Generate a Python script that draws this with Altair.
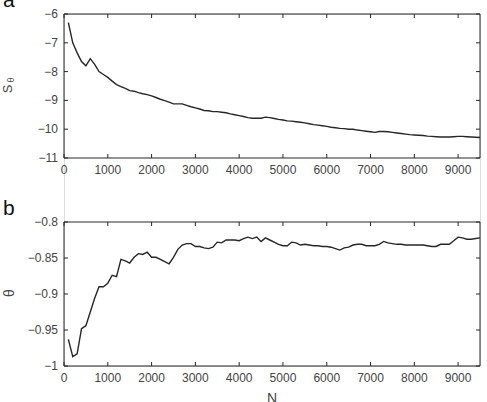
import altair as alt
import pandas as pd

N = list(range(100, 9600, 100))

S_theta = [
    -6.30, -7.00, -7.35, -7.65, -7.80, -7.55, -7.75, -8.00, -8.10, -8.20,
    -8.33, -8.45, -8.52, -8.58, -8.66, -8.68, -8.73, -8.77, -8.80, -8.84,
    -8.90, -8.96, -9.01, -9.06, -9.12, -9.12, -9.12, -9.17, -9.22, -9.26,
    -9.30, -9.35, -9.36, -9.39, -9.39, -9.41, -9.43, -9.47, -9.50, -9.53,
    -9.56, -9.60, -9.62, -9.62, -9.62, -9.58, -9.60, -9.63, -9.66, -9.68,
    -9.71, -9.72, -9.74, -9.76, -9.78, -9.81, -9.84, -9.86, -9.88, -9.90,
    -9.93, -9.95, -9.97, -9.98, -10.00, -10.00, -10.03, -10.05, -10.07, -10.09,
    -10.11, -10.08, -10.08, -10.09, -10.11, -10.13, -10.15, -10.17, -10.19, -10.20,
    -10.21, -10.22, -10.24, -10.25, -10.26, -10.27, -10.27, -10.27, -10.26, -10.25,
    -10.25, -10.26, -10.27, -10.28, -10.29,
]

theta = [
    -0.963, -0.987, -0.983, -0.948, -0.944, -0.925, -0.906, -0.890, -0.890, -0.885,
    -0.874, -0.876, -0.852, -0.854, -0.857, -0.849, -0.844, -0.845, -0.842, -0.849,
    -0.849, -0.852, -0.855, -0.858, -0.849, -0.838, -0.832, -0.830, -0.830, -0.834,
    -0.834, -0.836, -0.837, -0.835, -0.828, -0.829, -0.825, -0.825, -0.825, -0.826,
    -0.823, -0.821, -0.823, -0.821, -0.827, -0.822, -0.825, -0.828, -0.831, -0.833,
    -0.833, -0.828, -0.829, -0.832, -0.831, -0.832, -0.833, -0.833, -0.834, -0.834,
    -0.835, -0.837, -0.839, -0.836, -0.835, -0.832, -0.831, -0.831, -0.833, -0.833,
    -0.833, -0.831, -0.827, -0.829, -0.830, -0.831, -0.831, -0.832, -0.832, -0.832,
    -0.832, -0.832, -0.833, -0.834, -0.834, -0.831, -0.831, -0.831, -0.826, -0.821,
    -0.822, -0.824, -0.824, -0.823, -0.822,
]

x_ticks = [0, 1000, 2000, 3000, 4000, 5000, 6000, 7000, 8000, 9000]
x_labels = ["0", "1000", "2000", "3000", "4000", "5000", "6000", "7000", "8000", "9000"]
y_ticks_a = [-11, -10, -9, -8, -7, -6]
y_labels_a = ["\u221211", "\u221210", "\u22129", "\u22128", "\u22127", "\u22126"]
y_ticks_b = [-1, -0.95, -0.9, -0.85, -0.8]
y_labels_b = ["\u22121", "\u22120.95", "\u22120.9", "\u22120.85", "\u22120.8"]

W = 416
HA = 144            # panel a plot height
TOP_B = 208         # panel b top, relative to panel a top
HB = 144
TOTAL_H = TOP_B + HB

FONT = "Liberation Sans"
LINE = "#262626"
TXT = "#444444"

xs = alt.Scale(domain=[0, 9500], nice=False, zero=False)
ya = alt.Scale(domain=[-11, -6], range=[HA, 0], nice=False, zero=False)
yb = alt.Scale(domain=[-1, -0.8], range=[TOP_B + HB, TOP_B], nice=False, zero=False)

df_a = pd.DataFrame({"N": N, "v": S_theta})
df_b = pd.DataFrame({"N": N, "v": theta})
xt = pd.DataFrame({"t": x_ticks, "lab": x_labels})
yta = pd.DataFrame({"t": y_ticks_a, "lab": y_labels_a})
ytb = pd.DataFrame({"t": y_ticks_b, "lab": y_labels_b})
one = pd.DataFrame({"k": [0]})

layers = []

# data lines
layers.append(alt.Chart(df_a).mark_line(color=LINE, strokeWidth=1.4).encode(
    x=alt.X("N:Q", scale=xs, axis=None), y=alt.Y("v:Q", scale=ya, axis=None)))
layers.append(alt.Chart(df_b).mark_line(color=LINE, strokeWidth=1.4).encode(
    x=alt.X("N:Q", scale=xs, axis=None), y=alt.Y("v:Q", scale=yb, axis=None)))

# frames
for top, h in [(0, HA), (TOP_B, HB)]:
    layers.append(alt.Chart(one).mark_rect(fillOpacity=0, stroke=LINE, strokeWidth=1).encode(
        x=alt.value(0), x2=alt.value(W), y=alt.value(top), y2=alt.value(top + h)))

# inward x ticks (top & bottom of each panel)
for top, h in [(0, HA), (TOP_B, HB)]:
    layers.append(alt.Chart(xt).mark_rule(color=LINE, strokeWidth=1).encode(
        x=alt.X("t:Q", scale=xs, axis=None), y=alt.value(top + h), y2=alt.value(top + h - 4)))
    layers.append(alt.Chart(xt).mark_rule(color=LINE, strokeWidth=1).encode(
        x=alt.X("t:Q", scale=xs, axis=None), y=alt.value(top), y2=alt.value(top + 4)))
    layers.append(alt.Chart(xt).mark_text(font=FONT, fontSize=12, color=TXT,
                                          align="center", baseline="middle").encode(
        x=alt.X("t:Q", scale=xs, axis=None), y=alt.value(top + h + 12), text="lab:N"))

# inward y ticks and labels
for ydf, sc in [(yta, ya), (ytb, yb)]:
    layers.append(alt.Chart(ydf).mark_rule(color=LINE, strokeWidth=1).encode(
        y=alt.Y("t:Q", scale=sc, axis=None), x=alt.value(0), x2=alt.value(4)))
    layers.append(alt.Chart(ydf).mark_rule(color=LINE, strokeWidth=1).encode(
        y=alt.Y("t:Q", scale=sc, axis=None), x=alt.value(W), x2=alt.value(W - 4)))
    layers.append(alt.Chart(ydf).mark_text(font=FONT, fontSize=12, color=TXT,
                                           align="right", baseline="middle").encode(
        y=alt.Y("t:Q", scale=sc, axis=None), x=alt.value(-6), text="lab:N"))


def txt(s, x, y, size, angle=0, align="center", baseline="middle", color=TXT):
    kw = dict(font=FONT, fontSize=size, color=color, align=align, baseline=baseline)
    if angle:
        kw["angle"] = angle
    return alt.Chart(pd.DataFrame({"s": [s]})).mark_text(**kw).encode(
        text="s:N", x=alt.value(x), y=alt.value(y))


# panel letters
layers.append(txt("a", -61, -7, 21, align="left", baseline="alphabetic", color="#111111"))
layers.append(txt("b", -61, TOP_B - 7, 21, align="left", baseline="alphabetic", color="#111111"))
# axis titles
layers.append(txt("S", -56, 75, 13, angle=270))
layers.append(txt("θ", -53, 66, 9, angle=270))
layers.append(txt("θ", -54, TOP_B + 71, 14, angle=270))
layers.append(txt("N", W / 2, TOTAL_H + 37, 14, baseline="alphabetic"))

chart = alt.layer(*layers).resolve_scale(y="independent").properties(
    width=W, height=TOTAL_H,
    autosize=alt.AutoSizeParams(type="none"),
    padding={"left": 64, "top": 14, "right": 7, "bottom": 36},
).configure_view(stroke=None).configure(background="white")

chart.save("out.html", embed_options={"renderer": "svg", "actions": False})
